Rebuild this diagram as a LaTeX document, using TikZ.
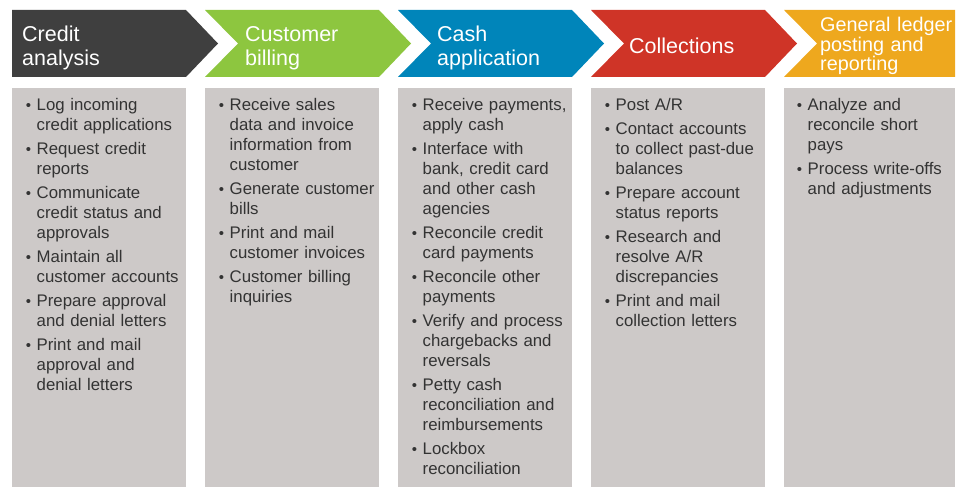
\documentclass[tikz,border=0pt]{standalone}
\usepackage{fontspec}
\setmainfont{Liberation Sans}
\definecolor{cdark}{HTML}{3F3F3F}
\definecolor{cgreen}{HTML}{8DC63F}
\definecolor{cblue}{HTML}{0085BA}
\definecolor{cred}{HTML}{CF3427}
\definecolor{corange}{HTML}{EEA81E}
\definecolor{cbox}{HTML}{CDC9C8}
\definecolor{ctext}{HTML}{333333}
\newcommand{\bul}{\par\noindent\llap{{\fontsize{15}{15}\selectfont\textbullet}\hspace{5.5pt}}}
\newcommand{\fst}{\rule{0pt}{15pt}}
\tikzset{
  panel/.style={fill=cbox, draw=none},
  headtext/.style={anchor=north west, inner sep=0pt, text=white, align=left, text width=160pt,
    font=\fontsize{21.5}{24}\selectfont},
  smallhead/.style={headtext, font=\fontsize{19.8}{17.5}\selectfont},
  bodytext/.style={anchor=north west, inner sep=0pt, text=ctext, align=left, text width=160pt,
    font=\fontsize{16.8}{20}\selectfont\setlength{\parskip}{4pt}}
}
\begin{document}
\begin{tikzpicture}[x=1pt,y=-1pt]
\useasboundingbox (0,0) rectangle (964,489);
% chevrons
\fill[cdark] (12,10) -- (186,10) -- (218,43.5) -- (186,77) -- (12,77) -- cycle;
\fill[cgreen] (205,10) -- (379,10) -- (411,43.5) -- (379,77) -- (205,77) -- (238,43.5) -- cycle;
\fill[cblue] (398,10) -- (572,10) -- (604,43.5) -- (572,77) -- (398,77) -- (431,43.5) -- cycle;
\fill[cred] (591,10) -- (765,10) -- (797,43.5) -- (765,77) -- (591,77) -- (624,43.5) -- cycle;
\fill[corange] (784,10) -- (955,10) -- (955,77) -- (784,77) -- (817,43.5) -- cycle;
% panels
\fill[panel] (12,88) rectangle (186,487);
\fill[panel] (205,88) rectangle (379,487);
\fill[panel] (398,88) rectangle (572,487);
\fill[panel] (591,88) rectangle (765,487);
\fill[panel] (784,88) rectangle (955,487);
% headers
\node[headtext] (h1) at (22,24) {\rule{0pt}{17pt}Credit\\analysis};
\node[headtext] (h2) at (245,24) {\rule{0pt}{17pt}Customer\\billing};
\node[headtext] (h3) at (437,24) {\rule{0pt}{17pt}Cash\\application};
\node[headtext] (h4) at (629,36.5) {\rule{0pt}{17pt}Collections};
\node[smallhead] (h5) at (820,16.5) {\rule{0pt}{15pt}General ledger\\posting and\\reporting};
% bodies
\node[bodytext] (b1) at (36.5,86) {%
\bul\fst Log incoming\newline credit applications
\bul Request credit\newline reports
\bul Communicate\newline credit status and\newline approvals
\bul Maintain all\newline customer accounts
\bul Prepare approval\newline and denial letters
\bul Print and mail\newline approval and\newline denial letters\par};
\node[bodytext] (b2) at (229.5,86) {%
\bul\fst Receive sales\newline data and invoice\newline information from\newline customer
\bul Generate customer\newline bills
\bul Print and mail\newline customer invoices
\bul Customer billing\newline inquiries\par};
\node[bodytext] (b3) at (422.5,86) {%
\bul\fst Receive payments,\newline apply cash
\bul Interface with\newline bank, credit card\newline and other cash\newline agencies
\bul Reconcile credit\newline card payments
\bul Reconcile other\newline payments
\bul Verify and process\newline chargebacks and\newline reversals
\bul Petty cash\newline reconciliation and\newline reimbursements
\bul Lockbox\newline reconciliation\par};
\node[bodytext] (b4) at (615.5,86) {%
\bul\fst Post A/R
\bul Contact accounts\newline to collect past-due\newline balances
\bul Prepare account\newline status reports
\bul Research and\newline resolve A/R\newline discrepancies
\bul Print and mail\newline collection letters\par};
\node[bodytext] (b5) at (807.5,86) {%
\bul\fst Analyze and\newline reconcile short\newline pays
\bul Process write-offs\newline and adjustments\par};
\end{tikzpicture}
\end{document}
